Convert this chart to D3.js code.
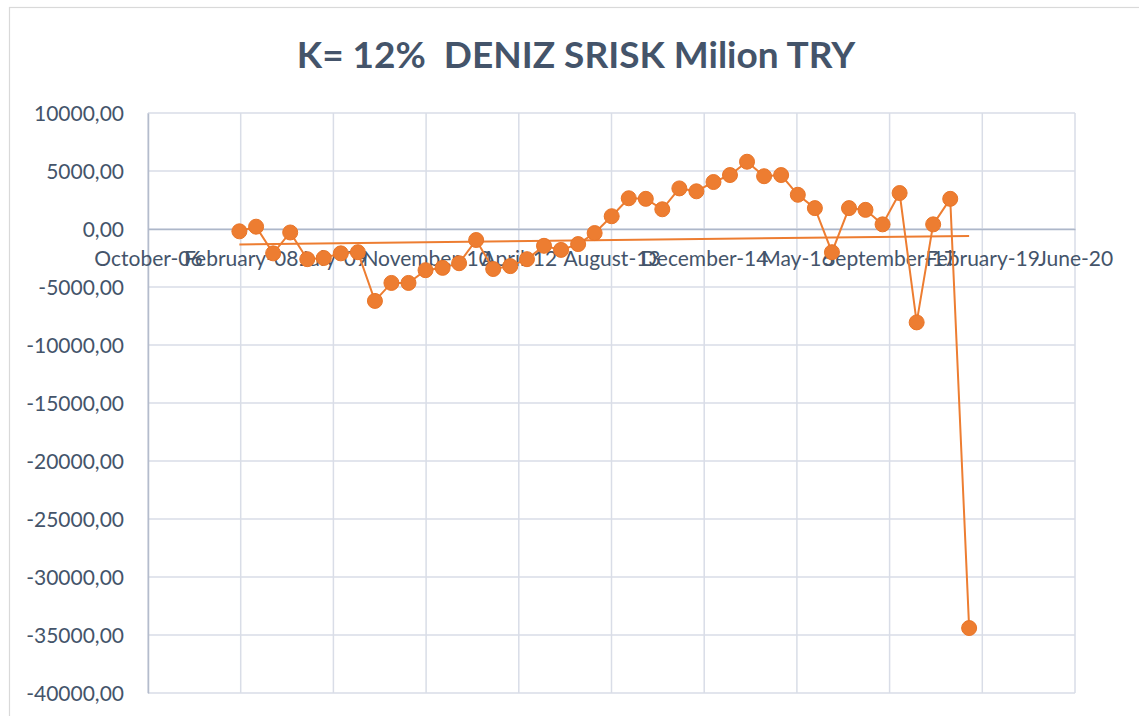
<!DOCTYPE html>
<html>
<head>
<meta charset="utf-8">
<script src="https://cdn.jsdelivr.net/npm/d3@7"></script>
<style>
  body { margin: 0; background: #fff; }
  svg { display: block; }
</style>
</head>
<body>
<div id="chart"></div>
<script>
// quarterly observations
var dates = [
  '2008-02-15','2008-05-15','2008-08-15','2008-11-15',
  '2009-02-15','2009-05-15','2009-08-15','2009-11-15',
  '2010-02-15','2010-05-15','2010-08-15','2010-11-15',
  '2011-02-15','2011-05-15','2011-08-15','2011-11-15',
  '2012-02-15','2012-05-15','2012-08-15','2012-11-15',
  '2013-02-15','2013-05-15','2013-08-15','2013-11-15',
  '2014-02-15','2014-05-15','2014-08-15','2014-11-15',
  '2015-02-15','2015-05-15','2015-08-15','2015-11-15',
  '2016-02-15','2016-05-15','2016-08-15','2016-11-15',
  '2017-02-15','2017-05-15','2017-08-15','2017-11-15',
  '2018-02-15','2018-05-15','2018-08-15','2018-11-25'
];
var srisk = [
  -200, 200, -2100, -300, -2600, -2500, -2100, -2000,
  -6200, -4650, -4650, -3550, -3350, -2950, -950, -3450,
  -3200, -2600, -1450, -1800, -1300, -350, 1100, 2650,
  2600, 1700, 3500, 3250, 4050, 4650, 5800, 4550,
  4650, 2950, 1800, -2000, 1800, 1650, 400, 3100,
  -8050, 400, 2600, -34400
];
// linear trend, start and end values
var trendValues = [-1330, -600];

var tickLabels = ['October-06', 'February-08', 'July-09', 'November-10', 'April-12',
  'August-13', 'December-14', 'May-16', 'September-17', 'February-19', 'June-20'];
var yTicks = [10000, 5000, 0, -5000, -10000, -15000, -20000, -25000, -30000, -35000, -40000];

var W = 1139, H = 716;
var margin = {top: 113, right: 64, bottom: 23, left: 148};
var width = W - margin.left - margin.right,
    height = H - margin.top - margin.bottom;

var parse = d3.timeParse('%Y-%m-%d');
var axisStart = parse('2006-10-10');
var tickDates = tickLabels.map((d, i) => d3.timeDay.offset(axisStart, 500 * i));

var data = dates.map((d, i) => ({date: parse(d), value: srisk[i]}));

var svg = d3.select('#chart')
  .append('svg')
  .attr('width', W)
  .attr('height', H);

// chart frame
svg.append('rect')
  .attr('x', 9.5).attr('y', 7.5)
  .attr('width', W).attr('height', H)
  .attr('fill', 'none')
  .attr('stroke', '#d9d9d9')
  .attr('stroke-width', 1.2);

svg.append('text')
  .attr('x', 576)
  .attr('y', 68)
  .attr('text-anchor', 'middle')
  .style('font-family', 'Lato, sans-serif')
  .style('font-weight', 'bold')
  .style('font-size', '37px')
  .style('fill', '#44546a')
  .style('white-space', 'pre')
  .text('K= 12%  DENIZ SRISK Milion TRY');

var g = svg.append('g')
  .attr('transform', 'translate(' + margin.left + ',' + margin.top + ')');

var x = d3.scaleTime()
  .domain([tickDates[0], tickDates[tickDates.length - 1]])
  .range([0, width]);

var y = d3.scaleLinear()
  .domain([-40000, 10000])
  .range([height, 0]);

var locale = d3.formatLocale({decimal: ',', thousands: '', grouping: [3], currency: ['', ''], minus: '-'});
var fmt = locale.format('.2f');

// gridlines
g.append('g')
  .selectAll('line.h')
  .data(yTicks)
  .enter().append('line')
  .attr('x1', 0).attr('x2', width)
  .attr('y1', d => y(d)).attr('y2', d => y(d))
  .attr('stroke', '#d9dde7')
  .attr('stroke-width', 1.5);

g.append('g')
  .selectAll('line.v')
  .data(tickDates)
  .enter().append('line')
  .attr('x1', d => x(d)).attr('x2', d => x(d))
  .attr('y1', 0).attr('y2', height)
  .attr('stroke', '#d9dde7')
  .attr('stroke-width', 1.5);

// y axis
var yAxis = g.append('g')
  .call(d3.axisLeft(y).tickValues(yTicks).tickSize(0).tickPadding(24).tickFormat(fmt));
yAxis.select('.domain').attr('stroke', '#b4bccc').attr('stroke-width', 1.5);
yAxis.selectAll('text')
  .style('font-family', 'Lato, sans-serif')
  .style('font-size', '21px')
  .style('fill', '#44546a')
  .attr('dy', '0.35em');

// x axis at zero
var xAxis = g.append('g')
  .attr('transform', 'translate(0,' + y(0) + ')')
  .call(d3.axisBottom(x).tickValues(tickDates).tickSize(0).tickPadding(30)
    .tickFormat((d, i) => tickLabels[i]));
xAxis.select('.domain').attr('stroke', '#adb7c9').attr('stroke-width', 1.5);
xAxis.selectAll('text')
  .style('font-family', 'Lato, sans-serif')
  .style('font-size', '21px')
  .style('fill', '#44546a')
  .attr('dy', '0.35em');

// trend line
g.append('line')
  .attr('x1', x(data[0].date))
  .attr('x2', x(data[data.length - 1].date))
  .attr('y1', y(trendValues[0]))
  .attr('y2', y(trendValues[1]))
  .attr('stroke', '#ed7d31')
  .attr('stroke-width', 2);

// series
var line = d3.line()
  .x(d => x(d.date))
  .y(d => y(d.value));

g.append('path')
  .datum(data)
  .attr('d', line)
  .attr('fill', 'none')
  .attr('stroke', '#ed7d31')
  .attr('stroke-width', 2);

g.selectAll('circle.dot')
  .data(data)
  .enter().append('circle')
  .attr('class', 'dot')
  .attr('cx', d => x(d.date))
  .attr('cy', d => y(d.value))
  .attr('r', 7.5)
  .attr('fill', '#ed7d31')
  .attr('stroke', '#e97528')
  .attr('stroke-width', 1);
</script>
</body>
</html>
